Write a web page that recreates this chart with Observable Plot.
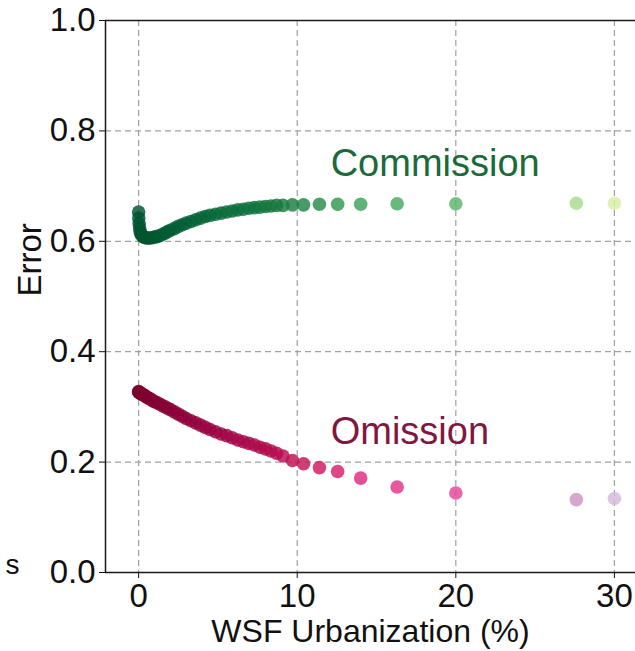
<!DOCTYPE html>
<html><head><meta charset="utf-8">
<script src="https://cdn.jsdelivr.net/npm/d3@7"></script>
<script src="https://cdn.jsdelivr.net/npm/@observablehq/plot@0.6"></script>
<style>body{margin:0;background:#fff;overflow:hidden}</style>
</head><body><div id="chart"></div>
<script>
// WSF urbanization (%) bins shared by both series
const urbanization = [0, 0.01, 0.03, 0.06, 0.1, 0.15, 0.22, 0.3, 0.4, 0.5, 0.62, 0.75, 0.9, 1.05, 1.2, 1.4, 1.6, 1.8, 2.0, 2.25, 2.5, 2.75, 3.0, 3.3, 3.6, 3.9, 4.2, 4.5, 4.85, 5.2, 5.55, 5.9, 6.25, 6.6, 6.95, 7.3, 7.65, 8.0, 8.35, 8.7, 9.1, 9.7, 10.4, 11.4, 12.55, 14.0, 16.3, 20.0, 27.6, 30.0];
const commission = [0.653, 0.642, 0.632, 0.624, 0.617, 0.613, 0.610, 0.608, 0.607, 0.606, 0.606, 0.606, 0.607, 0.608, 0.609, 0.611, 0.614, 0.617, 0.620, 0.623, 0.627, 0.630, 0.633, 0.636, 0.639, 0.642, 0.645, 0.647, 0.649, 0.651, 0.653, 0.655, 0.657, 0.658, 0.660, 0.661, 0.662, 0.663, 0.664, 0.665, 0.665, 0.666, 0.666, 0.667, 0.667, 0.667, 0.668, 0.668, 0.669, 0.669];
const omission = [0.328, 0.327, 0.326, 0.326, 0.325, 0.324, 0.323, 0.322, 0.320, 0.318, 0.316, 0.314, 0.311, 0.309, 0.307, 0.304, 0.301, 0.298, 0.295, 0.291, 0.287, 0.283, 0.279, 0.275, 0.271, 0.267, 0.263, 0.259, 0.255, 0.251, 0.248, 0.244, 0.240, 0.237, 0.234, 0.231, 0.227, 0.224, 0.220, 0.216, 0.211, 0.203, 0.197, 0.190, 0.183, 0.171, 0.155, 0.144, 0.132, 0.134];
const seriesNames = ["Commission", "Omission"];
const xTicks = [0, 10, 20, 30];
const yTicks = [0, 0.2, 0.4, 0.6, 0.8, 1.0];
const xDomain = [-2.09, 31.33];

const rows = urbanization.flatMap((x, i) => [
  {series: seriesNames[0], x, y: commission[i], i},
  {series: seriesNames[1], x, y: omission[i], i}
]);
const shade = d3.scaleLinear().domain([0, 9, 14, 20, 27.6, 30]).range([0.95, 0.8, 0.65, 0.57, 0.38, 0.25]).clamp(true);
const fillOf = d => (d.series === "Commission" ? d3.interpolateYlGn : d3.interpolatePuRd)(shade(d.x));
const labelIndex = urbanization.indexOf(12.55);
const labelRows = rows.filter(d => d.i === labelIndex);

const grid = {stroke: "#a0a0a0", strokeDasharray: "6,4", strokeWidth: 1.2};
const edge = {stroke: "#1a1a1a", strokeWidth: 1.5};

const chart = Plot.plot({
  width: 635, height: 651,
  marginLeft: 105, marginTop: 20, marginBottom: 79, marginRight: 0,
  style: {fontFamily: "'Liberation Sans', Arial, sans-serif", fontSize: "33px", color: "#111", background: "#fff"},
  x: {domain: xDomain, ticks: xTicks, tickFormat: d => String(d), tickSize: 6, tickPadding: 5, label: null},
  y: {domain: [0, 1], ticks: yTicks, tickFormat: d3.format(".1f"), tickSize: 6, tickPadding: 4, label: null},
  color: {type: "identity"},
  marks: [
    Plot.ruleX(xTicks, grid),
    Plot.ruleY(yTicks.slice(1, -1), grid),
    Plot.dot(rows, {x: "x", y: "y", r: 6.8, fill: fillOf, fillOpacity: 0.82, stroke: "none"}),
    Plot.ruleX([xDomain[0]], edge),
    Plot.ruleY([0, 1], edge),
    Plot.text(labelRows, {x: "x", y: "y", text: "series", dx: -7, dy: -40, textAnchor: "start", fontSize: 38,
      fill: d => d.series === "Commission" ? "#1b6a3a" : "#7f1741"}),
    Plot.text(["WSF Urbanization (%)"], {text: d => d, frameAnchor: "bottom", dy: 69, fontSize: 32, fill: "#111"}),
    Plot.text(["Error"], {text: d => d, frameAnchor: "left", dx: -75, rotate: -90, fontSize: 33, fill: "#111"}),
    Plot.text(["s"], {text: d => d, frameAnchor: "bottom-left", dx: -100, dy: 1, textAnchor: "start", fontSize: 28, fill: "#111"})
  ]
});
document.getElementById("chart").append(chart);
</script>
</body></html>
